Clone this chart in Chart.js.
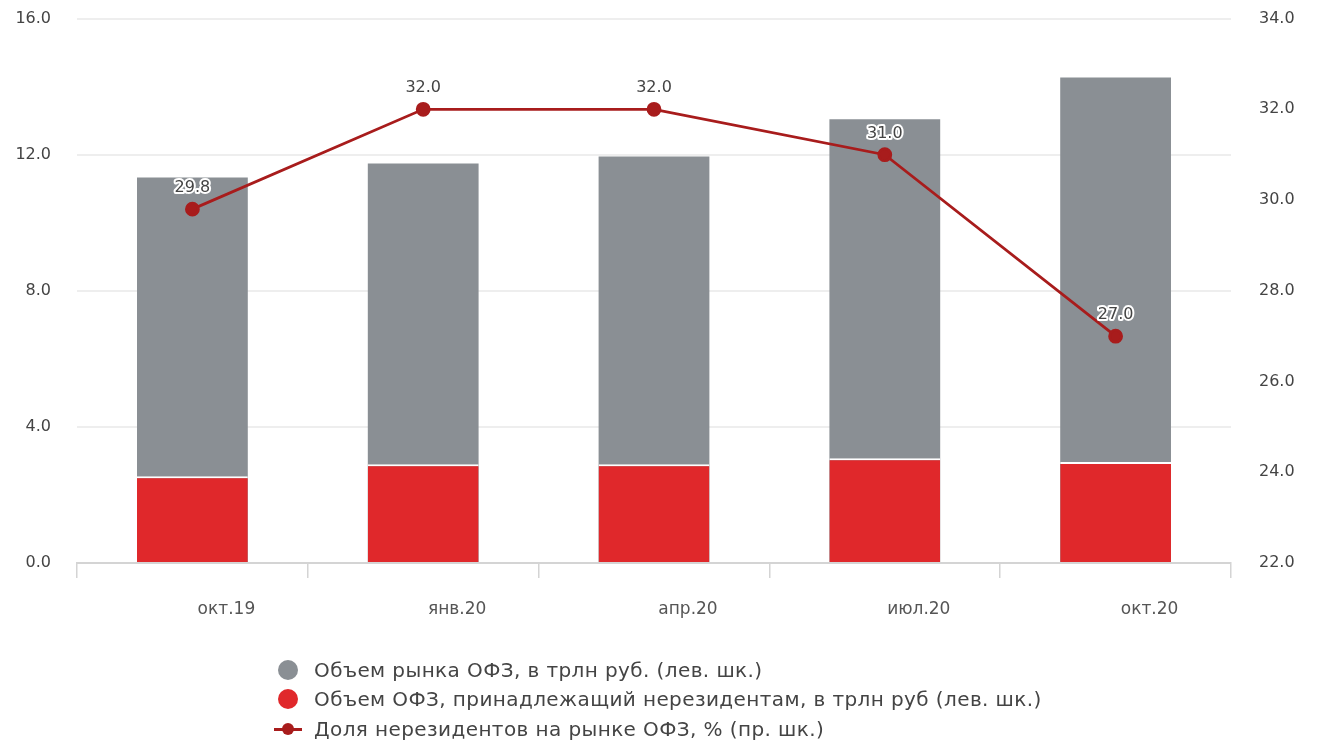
<!DOCTYPE html>
<html>
<head>
<meta charset="utf-8">
<script src="https://cdn.jsdelivr.net/npm/chart.js@4.4.0/dist/chart.umd.min.js"></script>
<style>
  body { margin: 0; background: #fff; overflow: hidden; }
  #wrap { position: relative; width: 1322px; height: 744px; overflow: hidden; }
  #chart { position: absolute; left: 0; top: -19px; }
  #legend { position: absolute; left: 272px; top: 655px; font-family: "DejaVu Sans", sans-serif; font-size: 20px; letter-spacing: 0.4px; color: #444; }
  #legend .row { height: 29.5px; display: flex; align-items: center; white-space: nowrap; }
  #legend .ico { width: 32px; height: 22px; position: relative; margin-right: 10px; flex: none; }
  #legend .dot { position: absolute; left: 6px; top: 1px; width: 20px; height: 20px; border-radius: 50%; }
  #legend .ln { position: absolute; left: 2px; top: 10px; width: 28px; height: 3px; background: #a81c1c; }
  #legend .pt { position: absolute; left: 10px; top: 5px; width: 12px; height: 12px; border-radius: 50%; background: #a81c1c; }
</style>
</head>
<body>
<div id="wrap">
  <canvas id="chart" width="1322" height="763"></canvas>
  <div id="legend"></div>
</div>
<script>
// data
const labels = ["окт.19", "янв.20", "апр.20", "июл.20", "окт.20"];
const marketVolume = [11.33, 11.74, 11.95, 13.04, 14.27];   // трлн руб
const nonresVolume = [2.55, 2.9, 2.9, 3.08, 2.97];         // трлн руб
const nonresShare = [29.8, 32.0, 32.0, 31.0, 27.0];        // %

const seriesNames = [
  "Объем рынка ОФЗ, в трлн руб. (лев. шк.)",
  "Объем ОФЗ, принадлежащий нерезидентам, в трлн руб (лев. шк.)",
  "Доля нерезидентов на рынке ОФЗ, % (пр. шк.)"
];

const GRAY = "#8a8f94";
const RED = "#e0282b";
const LINE = "#a81c1c";
const FONT = "'DejaVu Sans', sans-serif";

// value labels above line points, white halo
const pointLabels = {
  id: "pointLabels",
  afterDatasetsDraw(chart) {
    const meta = chart.getDatasetMeta(2);
    const ctx = chart.ctx;
    ctx.save();
    ctx.font = "16px " + FONT;
    ctx.textAlign = "center";
    ctx.textBaseline = "middle";
    ctx.lineJoin = "round";
    meta.data.forEach((pt, i) => {
      const txt = nonresShare[i].toFixed(1);
      ctx.lineWidth = 4;
      ctx.strokeStyle = "#fff";
      ctx.strokeText(txt, pt.x, pt.y - 21);
      ctx.fillStyle = "#444";
      ctx.fillText(txt, pt.x, pt.y - 21);
    });
    ctx.restore();
  }
};

new Chart(document.getElementById("chart"), {
  type: "bar",
  data: {
    labels: labels,
    datasets: [
      {
        label: seriesNames[0],
        data: marketVolume,
        backgroundColor: GRAY,
        yAxisID: "y",
        order: 3
      },
      {
        label: seriesNames[1],
        data: nonresVolume,
        backgroundColor: RED,
        borderColor: "#fff",
        borderWidth: { top: 2, left: 0, right: 0, bottom: 0 },
        borderSkipped: false,
        yAxisID: "y",
        order: 2
      },
      {
        type: "line",
        label: seriesNames[2],
        data: nonresShare,
        borderColor: LINE,
        backgroundColor: LINE,
        borderWidth: 2.8,
        pointRadius: 6,
        pointHoverRadius: 6,
        tension: 0,
        yAxisID: "y1",
        order: 1
      }
    ]
  },
  options: {
    responsive: false,
    animation: false,
    layout: { padding: 0 },
    datasets: {
      bar: { grouped: false, categoryPercentage: 0.48, barPercentage: 1 }
    },
    plugins: {
      legend: { display: false },
      tooltip: { enabled: false }
    },
    scales: {
      x: {
        grid: { display: true, drawOnChartArea: false, drawTicks: true, tickLength: 15, offset: true, color: "#d4d4d4", lineWidth: 1.5 },
        border: { display: true, color: "#d4d4d4", width: 2 },
        ticks: { color: "#555", font: { family: FONT, size: 17 }, padding: 21, labelOffset: 34 },
        afterFit(scale) { scale.height = 181; }
      },
      y: {
        position: "left",
        min: 0,
        max: 16,
        ticks: { stepSize: 4, color: "#444", font: { family: FONT, size: 16 }, padding: 26, callback: v => v.toFixed(1) },
        grid: { color: "#eeeeee", lineWidth: 2, drawTicks: false },
        border: { display: false },
        afterFit(scale) { scale.width = 77; }
      },
      y1: {
        position: "right",
        min: 22,
        max: 34,
        ticks: { stepSize: 2, color: "#444", font: { family: FONT, size: 16 }, padding: 28, callback: v => v.toFixed(1) },
        grid: { drawOnChartArea: false, drawTicks: false },
        border: { display: false },
        afterFit(scale) { scale.width = 91; }
      }
    }
  },
  plugins: [pointLabels]
});

// legend
const legend = document.getElementById("legend");
const icons = [
  `<span class="dot" style="background:${GRAY}"></span>`,
  `<span class="dot" style="background:${RED}"></span>`,
  `<span class="ln"></span><span class="pt"></span>`
];
seriesNames.forEach((name, i) => {
  const row = document.createElement("div");
  row.className = "row";
  row.innerHTML = `<span class="ico">${icons[i]}</span><span>${name}</span>`;
  legend.appendChild(row);
});
</script>
</body>
</html>
